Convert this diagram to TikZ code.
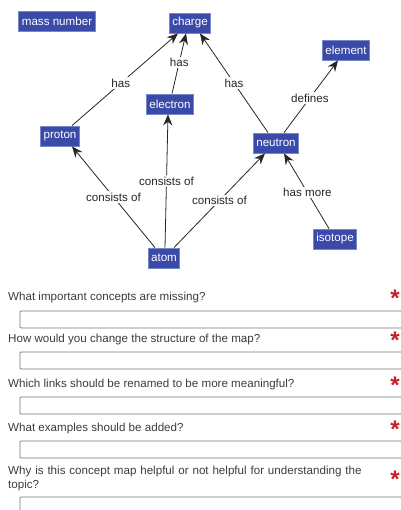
\documentclass[tikz,border=0pt]{standalone}
\usepackage{fontspec}
\setmainfont{Liberation Sans}
\usetikzlibrary{arrows.meta}
\definecolor{conceptblue}{RGB}{58,74,168}
\definecolor{conceptedge}{RGB}{120,135,200}
\definecolor{qtext}{RGB}{60,60,60}
\definecolor{boxgray}{RGB}{120,120,120}
\definecolor{starred}{RGB}{200,30,40}
\tikzset{
  concept/.style={draw=conceptedge, line width=0.8pt, fill=conceptblue, text=white,
    font=\fontsize{11.6}{13}\selectfont, inner xsep=3pt, inner ysep=3pt, minimum height=20pt},
  link/.style={draw=black!85, line width=0.8pt, -{Stealth[length=11pt,width=9pt]}},
  lbl/.style={fill=white, fill opacity=0.9, text opacity=1, text=black!85,
    font=\fontsize{11.6}{13}\selectfont, inner sep=1.5pt},
  question/.style={anchor=west, text=qtext, font=\fontsize{11.6}{14}\selectfont, inner sep=0pt},
  answer/.style={draw=boxgray, line width=0.8pt, rounded corners=1pt},
  req/.style={text=starred, font=\fontsize{24}{24}\bfseries\selectfont, inner sep=0pt}
}
\begin{document}
\begin{tikzpicture}[x=1pt, y=-1pt]
\useasboundingbox (0,0) rectangle (400,510);

% concept nodes
\node[concept] (mass) at (57,21) {mass number};
\node[concept] (charge) at (190,23) {charge};
\node[concept] (element) at (346,50) {element};
\node[concept] (electron) at (170,104) {electron};
\node[concept] (proton) at (60,136) {proton};
\node[concept] (neutron) at (276,143) {neutron};
\node[concept] (isotope) at (335,239) {isotope};
\node[concept] (atom) at (164,258) {atom};

% links
\draw[link] ([xshift=12pt]proton.north) -- node[lbl, pos=0.46] {has} ([xshift=-12pt]charge.south);
\draw[link] ([xshift=2pt]electron.north) -- node[lbl, pos=0.52] {has} ([xshift=-4pt]charge.south);
\draw[link] ([xshift=-8pt]neutron.north) -- node[lbl, pos=0.5] {has} ([xshift=10pt]charge.south);
\draw[link] ([xshift=8pt]neutron.north) -- node[lbl, pos=0.48] {defines} ([xshift=-8pt]element.south);
\draw[link] ([xshift=-9pt]atom.north) -- node[lbl, pos=0.5] {consists of} ([xshift=12pt]proton.south);
\draw[link] ([xshift=1pt]atom.north) -- node[lbl, pos=0.5] {consists of} ([xshift=-2pt]electron.south);
\draw[link] ([xshift=10pt]atom.north) -- node[lbl, pos=0.5] {consists of} ([xshift=-11pt]neutron.south);
\draw[link] ([xshift=-6pt]isotope.north) -- node[lbl, pos=0.48] {has more} ([xshift=8pt]neutron.south);

% questions with answer boxes
\node[question] (q1) at (8,297) {What important concepts are missing?};
\node[req] (s1) at (395,298) {*};
\draw[answer] (20,311) rectangle (402,328);

\node[question] (q2) at (8,339) {How would you change the structure of the map?};
\node[req] (s2) at (395,340) {*};
\draw[answer] (20,352) rectangle (402,369);

\node[question] (q3) at (8,384) {Which links should be renamed to be more meaningful?};
\node[req] (s3) at (395,385) {*};
\draw[answer] (20,397) rectangle (402,414);

\node[question] (q4) at (8,428) {What examples should be added?};
\node[req] (s4) at (395,429) {*};
\draw[answer] (20,441) rectangle (402,458);

\node[question, align=left, text width=356pt, anchor=north west] (q5) at (8,466) {Why is this concept map helpful or not helpful for understanding the topic?};
\node[req] (s5) at (395,479) {*};
\draw[answer] (20,497) rectangle (402,514);
\end{tikzpicture}
\end{document}
